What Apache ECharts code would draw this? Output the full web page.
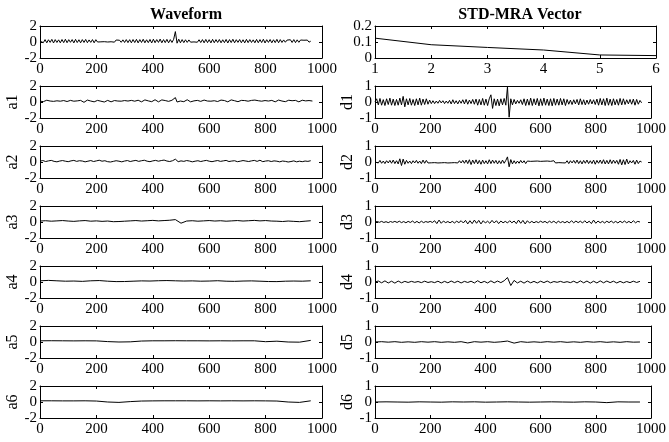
<!DOCTYPE html>
<html><head><meta charset="utf-8">
<script src="https://cdn.jsdelivr.net/npm/echarts@6/dist/echarts.min.js"></script>
<style>html,body{margin:0;padding:0;background:#fff}#c{width:669px;height:442px}</style>
</head><body><div id="c"></div>
<script>
// ---- data ----
const TITLES = ['Waveform', 'STD-MRA Vector'];
const LEFT_NAMES = ['', 'a1', 'a2', 'a3', 'a4', 'a5', 'a6'];
const RIGHT_NAMES = ['', 'd1', 'd2', 'd3', 'd4', 'd5', 'd6'];
const X_TICKS_SIGNAL = [0, 200, 400, 600, 800, 1000];
const X_TICKS_STD = [1, 2, 3, 4, 5, 6];
const STD_LEVELS = [1, 2, 3, 4, 5, 6];
const STD_VALUES = [0.124, 0.083, 0.066, 0.05, 0.019, 0.015];

const WAVE_STEP = 6;
const WAVE = [0.1,.32,-.08,.3,-.1,.28,-.05,.33,-.12,.3,-.06,.27,-.1,.31,-.08,.34,-.09,.29,-.04,.3,
-.11,.33,-.07,.28,-.1,.3,-.06,.32,-.09,.26,-.05,.3,-.1,.29,0,.22,.02,.2,.04,.24,
0,.2,.03,.23,-.02,.25,.01,.22,-.04,.27,-.06,.3,-.08,.29,-.1,.31,-.07,.33,-.11,.3,
-.06,.34,-.1,.28,-.08,.32,-.12,.35,-.09,.3,-.05,.36,-.1,.3,-.08,.33,-.1,.3,-.06,.34,
1.3,-.15,.35,-.1,.3,-.08,.28,-.05,.26,-.02,.22,.01,.25,-.03,.28,-.07,.3,-.1,.32,-.08,
.29,-.11,.33,-.09,.3,-.06,.31,-.1,.28,-.08,.32,-.12,.3,-.07,.34,-.1,.29,-.05,.31,-.09,
.28,-.11,.33,-.08,.3,-.06,.27,-.1,.32,-.09,.3,-.07,.34,-.12,.29,-.05,.31,-.1,.28,-.08,
.33,-.09,.3,-.06,.26,-.03,.24,-.01,.28,-.06,.3,-.08,.27,-.04,.25,0,.22,.02,.24,-.02,.1];

const A1_STEP = 6;
const A1 = [.1,.2,.05,.15,.22,.02,.12,.25,.08,-.02,.15,.22,.1,0,.18,.24,.06,.12,.2,-.02,
.1,.25,.14,.04,.2,.1,-.04,.16,.24,.08,.12,.22,.02,.14,.2,.06,.1,.18,0,.12,
.2,.08,.02,.14,.18,.06,.12,.24,.1,.04,.18,.26,.12,.02,.2,.28,.1,.06,.22,.14,
.02,.18,.26,.08,.14,.24,.04,.16,.28,.12,.02,.2,.26,.1,.18,.3,.08,.14,.22,.1,
.55,0,.2,.12,.26,.04,.18,.28,.1,.02,.22,.14,.06,.2,.26,.08,.16,.24,.04,.12,
.22,.1,.02,.16,.2,.06,.14,.24,.08,.18,.12,.02,.2,.26,.1,.16,.22,.04,.14,.2,
.08,.18,.26,.1,.04,.2,.14,.24,.06,.16,.22,.1,.02,.18,.26,.12,.06,.2,.14,.02,
.16,.24,.08,.12,.2,.04,.14,.22,.1,.16,.06,.2,.12,.02,.16,.22,.08,.14,.04,.18,.1,.12];

const A2_STEP = 10;
const A2 = [.1,.18,.06,.14,.2,.08,.02,.12,.18,.1,
.04,.14,.2,.08,.16,.12,.02,.1,.18,.06,
.14,.22,.1,.16,.04,0,.08,.16,.1,.02,
.12,.18,.06,.14,.2,.08,.16,.22,.1,.04,
.14,.2,.1,.18,.24,.12,.06,.16,.35,.04,
.14,.08,.18,.12,.02,.1,.16,.06,.14,.2,
.1,.04,.12,.18,.08,.14,.2,.06,.12,.16,
.04,.1,.18,.12,.06,.14,.2,.08,.22,.04,
.12,.16,.06,.14,.1,.02,.12,.08,0,.06,
.14,.02,.1,.04,.12,.08,.16];

const A3_STEP = 20;
const A3 = [.12,.16,.1,.14,.18,.12,.08,.14,.18,.1,
.14,.08,.12,.04,.06,.1,.14,.18,.12,.16,
.2,.14,.18,.22,.3,-.15,.12,.16,.1,.14,
.18,.12,.16,.1,.14,.18,.12,.16,.2,.14,
.18,.12,.1,.06,.12,.08,.04,.1,.16];

const A4_STEP = 30;
const A4 = [.15,.2,.15,.1,.12,.08,.15,.18,.1,.05,.06,.1,.14,.12,.16,.18,.15,.12,.14,.1,
.12,.16,.1,.08,.12,.14,.1,.06,.05,.1,.12,.1,.15];

const A5_STEP = 40;
const A5 = [.15,.16,.15,.14,.15,.14,.05,0,.02,.12,.15,.15,.16,.15,.15,.14,.15,.14,.15,.15,.04,.1,0,-.02,.2];

const A6_STEP = 40;
const A6 = [.15,.15,.14,.14,.15,.12,0,-.05,.05,.12,.14,.15,.15,.15,.14,.15,.14,.15,.14,.15,.14,.12,0,-.05,.15];

const D1_STEP = 6;
const D1 = [0,.2,-.18,.22,-.2,.15,-.22,.2,-.16,.24,
-.2,.18,-.22,.16,-.2,.24,-.18,.35,-.3,.2,
-.18,.22,-.2,.16,-.22,.2,-.18,.24,-.2,.18,
-.16,.2,-.14,.12,-.1,.08,-.1,.06,-.08,.1,
-.06,.08,-.1,.06,-.08,.1,-.12,.14,-.1,.08,
-.12,.1,-.08,.14,-.12,.16,-.14,.12,-.1,.16,
-.14,.18,-.2,.16,-.18,.22,-.2,.18,-.22,.2,
.45,-.4,.2,-.22,.18,-.24,.2,-.18,.22,-.2,
.95,-.95,.2,-.18,.16,-.12,.1,-.08,.14,-.16,
.2,-.22,.18,-.2,.24,-.22,.2,-.18,.22,-.24,
.2,-.22,.24,-.2,.18,-.22,.2,-.24,.22,-.2,
.18,-.2,.22,-.18,.2,-.22,.16,-.14,.12,-.16,
.14,-.12,.16,-.18,.2,-.16,.14,-.18,.12,-.14,
.16,-.12,.14,-.16,.18,-.2,.22,-.18,.2,-.22,
.24,-.2,.18,-.22,.2,-.18,.16,-.2,.22,-.18,
.2,-.16,.14,-.12,.16,-.14,.18,-.2,.16,-.14,.1,-.05];

const D2_STEP = 6;
const D2 = [0,.08,-.06,.1,-.08,.06,-.1,.08,-.06,.1,
-.08,.12,-.1,.08,-.12,.2,-.22,.18,-.14,.1,
-.08,.06,-.1,.08,-.06,.1,-.08,.06,-.1,.12,
-.08,.1,-.06,.04,-.05,.06,-.04,.05,-.06,.04,
-.05,.06,-.04,.05,-.06,.04,-.05,.06,-.04,.05,
-.06,.08,-.06,.1,-.08,.12,-.1,.14,-.16,.12,
-.1,.14,-.12,.1,-.14,.12,-.1,.08,-.12,.14,
-.1,.12,-.08,.1,-.12,.08,-.1,.12,-.08,.1,
.32,-.3,.15,-.12,.08,-.1,.06,-.08,.1,-.06,
.08,-.1,.06,-.05,.04,-.06,.05,-.04,.06,-.05,
.04,-.06,.05,-.04,.06,-.05,.04,-.06,.08,-.06,
.05,-.04,.06,-.05,.04,-.06,.08,-.1,.08,-.06,
.1,-.08,.12,-.1,.08,-.12,.1,-.08,.12,-.1,
.08,-.1,.12,-.14,.1,-.08,.12,-.1,.14,-.12,
.1,-.12,.14,-.1,.12,-.08,.1,-.14,.16,-.18,
.14,-.16,.18,-.12,.08,-.06,.1,-.14,.12,-.1,.06,0];

const D3_STEP = 8;
const D3 = [0,.03,-.02,.04,-.03,.02,-.04,.03,-.02,.04,
-.03,.05,-.04,.03,-.05,.04,-.03,.06,-.05,.04,
-.06,.05,-.04,.03,-.02,.04,-.03,.08,-.1,.12,
-.08,.06,-.04,.03,-.05,.04,-.06,.05,-.04,.08,
-.06,.1,-.12,.08,-.1,.12,-.08,.1,-.12,.08,
-.06,.05,-.08,.1,-.06,.08,-.1,.06,-.05,.04,
-.06,.08,-.05,.06,-.1,.12,-.08,.1,-.12,.08,
-.06,.04,-.05,.03,-.04,.05,-.03,.04,-.06,.05,
-.04,.06,-.08,.05,-.04,.03,-.05,.04,-.06,.08,
-.05,.06,-.04,.05,-.06,.08,-.06,.05,-.1,.12,
-.08,.06,-.05,.04,-.06,.05,-.04,.06,-.05,.04,
-.06,.05,-.04,.06,-.05,.04,-.06,.08,-.05,.04,0];

const D4_STEP = 12;
const D4 = [0,.06,-.05,.07,-.06,.05,-.07,.06,-.05,.04,
-.03,.04,-.02,.03,-.04,.05,-.03,.02,-.04,.05,
-.06,.04,-.05,.06,-.04,.05,-.06,.04,-.03,.05,
-.06,.08,-.05,.04,-.06,.07,-.05,.06,-.04,.08,
.28,-.22,.1,-.06,.05,-.07,.06,-.05,.04,-.06,
.05,-.04,.06,-.05,.03,-.02,.04,-.03,.02,-.04,
.05,-.06,.07,-.05,.06,-.07,.05,-.06,.07,-.05,
.06,-.04,.05,-.06,.04,-.05,.03,-.04,.05,-.03,.04];

const D5_STEP = 24;
const D5 = [0,.02,-.01,.02,-.02,.01,-.02,.02,-.01,.02,
-.02,.01,-.02,.02,-.06,.02,-.01,.02,-.02,.01,
.06,-.07,.02,-.02,.01,-.02,.02,-.01,.02,-.02,
.01,-.02,.02,-.01,.02,-.02,.01,-.02,.02,-.01,0];

const D6_STEP = 40;
const D6 = [0,.01,0,-.01,.01,0,-.01,.01,0,.01,-.01,0,.01,0,-.01,0,.01,0,-.01,.01,0,-.04,.01,0,0];

// ---- chart ----
const FONT = '"Liberation Serif","Times New Roman",serif';
const ROW_TOP = 26, ROW_H = 32, ROW_GAP = 60;
const COLS = [{left: 40, width: 282}, {left: 375, width: 281}];

const leftSignals = [[WAVE, WAVE_STEP], [A1, A1_STEP], [A2, A2_STEP], [A3, A3_STEP], [A4, A4_STEP], [A5, A5_STEP], [A6, A6_STEP]];
const rightSignals = [null, [D1, D1_STEP], [D2, D2_STEP], [D3, D3_STEP], [D4, D4_STEP], [D5, D5_STEP], [D6, D6_STEP]];

const grid = [], xAxis = [], yAxis = [], series = [];
function fmt(v) { return String(Math.round(v * 1000) / 1000); }
function addPanel(col, row, xmin, xmax, xint, ymin, ymax, yint, name, data) {
  const gi = grid.length;
  grid.push({left: COLS[col].left, width: COLS[col].width, top: ROW_TOP + row * ROW_GAP, height: ROW_H, containLabel: false});
  const axLine = {show: true, onZero: false, lineStyle: {color: '#000', width: 1}};
  const tick = {show: true, inside: true, length: 3, lineStyle: {color: '#000'}};
  const lbl = {color: '#000', fontFamily: FONT, fontSize: 15, formatter: fmt};
  xAxis.push({gridIndex: gi, type: 'value', min: xmin, max: xmax, interval: xint, position: 'bottom',
    axisLine: axLine, axisTick: tick, splitLine: {show: false}, axisLabel: Object.assign({margin: 4}, lbl)});
  xAxis.push({gridIndex: gi, type: 'value', min: xmin, max: xmax, interval: xint, position: 'top',
    axisLine: axLine, axisTick: tick, splitLine: {show: false}, axisLabel: {show: false}});
  yAxis.push({gridIndex: gi, type: 'value', min: ymin, max: ymax, interval: yint, position: 'left',
    name: name, nameLocation: 'middle', nameGap: 16, nameRotate: 90,
    nameTextStyle: {color: '#000', fontFamily: FONT, fontSize: 16},
    axisLine: axLine, axisTick: tick, splitLine: {show: false}, axisLabel: Object.assign({margin: 3}, lbl)});
  yAxis.push({gridIndex: gi, type: 'value', min: ymin, max: ymax, interval: yint, position: 'right',
    axisLine: axLine, axisTick: tick, splitLine: {show: false}, axisLabel: {show: false}});
  series.push({type: 'line', xAxisIndex: 2 * gi, yAxisIndex: 2 * gi, data: data, showSymbol: false,
    symbol: 'none', sampling: null, lineStyle: {color: '#000', width: 1}, silent: true, animation: false});
}

for (let r = 0; r < 7; r++) {
  const [arr, step] = leftSignals[r];
  addPanel(0, r, X_TICKS_SIGNAL[0], X_TICKS_SIGNAL[X_TICKS_SIGNAL.length - 1], 200, -2, 2, 2,
    LEFT_NAMES[r], arr.map((v, i) => [i * step, v]));
}
addPanel(1, 0, X_TICKS_STD[0], X_TICKS_STD[X_TICKS_STD.length - 1], 1, 0, 0.2, 0.1, '',
  STD_LEVELS.map((x, i) => [x, STD_VALUES[i]]));
for (let r = 1; r < 7; r++) {
  const [arr, step] = rightSignals[r];
  addPanel(1, r, X_TICKS_SIGNAL[0], X_TICKS_SIGNAL[X_TICKS_SIGNAL.length - 1], 200, -1, 1, 1,
    RIGHT_NAMES[r], arr.map((v, i) => [i * step, v]));
}

const chart = echarts.init(document.getElementById('c'), null, {renderer: 'canvas'});
chart.setOption({
  animation: false,
  backgroundColor: '#fff',
  title: [
    {text: TITLES[0], left: 181, top: 2, textAlign: 'center', textStyle: {fontFamily: FONT, fontSize: 16, fontWeight: 'bold', color: '#000'}},
    {text: TITLES[1], left: 515, top: 2, textAlign: 'center', textStyle: {fontFamily: FONT, fontSize: 16, fontWeight: 'bold', color: '#000'}}
  ],
  grid: grid, xAxis: xAxis, yAxis: yAxis, series: series
});
</script></body></html>
